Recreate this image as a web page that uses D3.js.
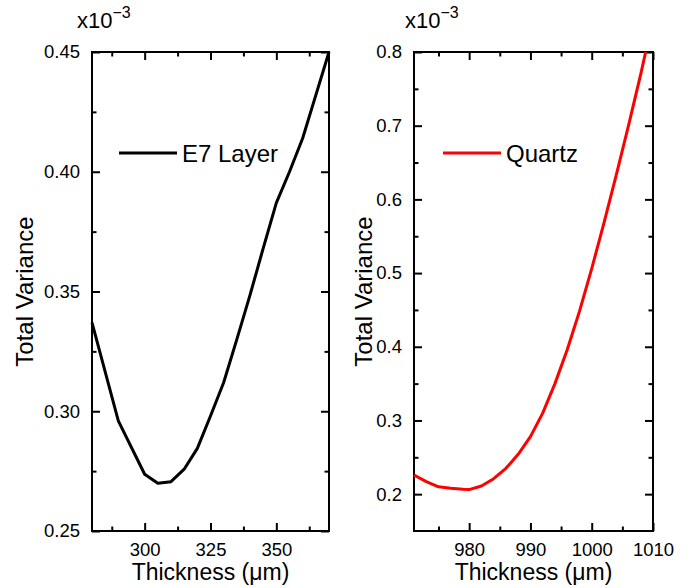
<!DOCTYPE html>
<html>
<head>
<meta charset="utf-8">
<script src="https://cdn.jsdelivr.net/npm/d3@7"></script>
<style>
  body { margin: 0; background: #fff; }
  svg { font-family: "Liberation Sans", Arial, sans-serif; }
</style>
</head>
<body>
<svg id="chart" width="694" height="588"></svg>
<script>
// E7 layer series (x in um, y in units of 1e-3)
var e7Thickness = [280, 290, 300, 305, 310, 315, 320, 325, 330, 335, 340, 345, 350, 355, 360, 365, 370];
var e7Variance  = [0.337, 0.296, 0.2737, 0.2699, 0.2706, 0.2758, 0.2845, 0.298, 0.312, 0.330, 0.3485, 0.368, 0.387, 0.400, 0.414, 0.432, 0.450];

// Quartz series
var quartzThickness = [971, 973, 975, 977, 979, 980, 982, 984, 986, 988, 990, 992, 994, 996, 998, 1000, 1002, 1004, 1006, 1008, 1008.8];
var quartzVariance  = [0.226, 0.217, 0.210, 0.208, 0.2065, 0.2062, 0.211, 0.221, 0.235, 0.254, 0.278, 0.310, 0.350, 0.396, 0.448, 0.506, 0.568, 0.633, 0.700, 0.770, 0.800];

// ticks
var e7XTicks = [300, 325, 350];
var e7XMinor = [287.5, 312.5, 337.5, 362.5];
var e7YTicks = [0.25, 0.30, 0.35, 0.40, 0.45];
var e7YMinor = [0.275, 0.325, 0.375, 0.425];

var qXTicks = [980, 990, 1000, 1010];
var qXMinor = [975, 985, 995, 1005];
var qYTicks = [0.2, 0.3, 0.4, 0.5, 0.6, 0.7, 0.8];
var qYMinor = [0.25, 0.35, 0.45, 0.55, 0.65, 0.75];

var svg = d3.select("#chart");

function drawPanel(p) {
  var x = d3.scaleLinear().domain(p.xDomain).range([p.left, p.right]);
  var y = d3.scaleLinear().domain(p.yDomain).range([p.bottom, p.top]);
  var g = svg.append("g");
  var h = p.bottom - p.top, w = p.right - p.left;

  // ticks, pointing inward on all four sides
  function ax(axis, tr, values, size, labels) {
    var a = g.append("g")
      .attr("transform", tr)
      .call(axis.tickValues(values).tickSize(size).tickPadding(10)
        .tickFormat(labels ? p[labels] : ""));
    a.select(".domain").remove();
    a.selectAll("line").attr("stroke", "#000").attr("stroke-width", 2);
    a.selectAll("text").attr("fill", "#000").style("font-size", "18.5px");
    return a;
  }
  var bx = ax(d3.axisBottom(x), "translate(0," + p.bottom + ")", p.xTicks, -8, "xFmt");
  bx.selectAll("text").attr("dy", "0").attr("y", 25);
  ax(d3.axisBottom(x), "translate(0," + p.bottom + ")", p.xMinor, -4.5, null);
  ax(d3.axisTop(x), "translate(0," + p.top + ")", p.xTicks, -8, null);
  ax(d3.axisTop(x), "translate(0," + p.top + ")", p.xMinor, -4.5, null);
  var ly = ax(d3.axisLeft(y), "translate(" + p.left + ",0)", p.yTicks, -8, "yFmt");
  ly.selectAll("text").attr("x", -12);
  ax(d3.axisLeft(y), "translate(" + p.left + ",0)", p.yMinor, -4.5, null);
  ax(d3.axisRight(y), "translate(" + p.right + ",0)", p.yTicks, -8, null);
  ax(d3.axisRight(y), "translate(" + p.right + ",0)", p.yMinor, -4.5, null);

  // frame
  g.append("rect")
    .attr("x", p.left).attr("y", p.top)
    .attr("width", w).attr("height", h)
    .attr("fill", "none").attr("stroke", "#000").attr("stroke-width", 2);

  // curve
  var pts = p.xs.map(function (d, i) { return [d, p.ys[i]]; });
  var line = d3.line().x(function (d) { return x(d[0]); }).y(function (d) { return y(d[1]); });
  g.append("path")
    .datum(pts)
    .attr("d", line)
    .attr("fill", "none")
    .attr("stroke", p.color)
    .attr("stroke-width", 3)
    .attr("stroke-linejoin", "round");

  // legend
  g.append("line")
    .attr("x1", p.legX).attr("x2", p.legX + 58)
    .attr("y1", 153).attr("y2", 153)
    .attr("stroke", p.color).attr("stroke-width", 3);
  g.append("text")
    .attr("x", p.legX + 63).attr("y", 162)
    .style("font-size", "24px")
    .text(p.name);

  // axis titles
  g.append("text")
    .attr("x", (p.left + p.right) / 2).attr("y", 580)
    .attr("text-anchor", "middle")
    .style("font-size", "23px")
    .text("Thickness (\u03bcm)");
  g.append("text")
    .attr("transform", "translate(" + p.yTitleX + "," + (p.top + p.bottom) / 2 + ") rotate(-90)")
    .attr("text-anchor", "middle")
    .style("font-size", "24px")
    .text("Total Variance");

  // multiplier
  var m = g.append("text")
    .attr("x", p.multX).attr("y", 28)
    .style("font-size", "22px");
  m.append("tspan").text("x10");
  m.append("tspan").attr("dy", -10).style("font-size", "16px").text("\u22123");
}

drawPanel({
  left: 92, right: 329, top: 52, bottom: 531,
  xDomain: [280, 370], yDomain: [0.25, 0.45],
  xTicks: e7XTicks, xMinor: e7XMinor, yTicks: e7YTicks, yMinor: e7YMinor,
  xFmt: d3.format("d"), yFmt: d3.format(".2f"),
  xs: e7Thickness, ys: e7Variance, color: "#000", name: "E7 Layer",
  legX: 119, yTitleX: 33, multX: 77
});

drawPanel({
  left: 414, right: 653, top: 52, bottom: 531,
  xDomain: [971, 1010], yDomain: [0.15, 0.8],
  xTicks: qXTicks, xMinor: qXMinor, yTicks: qYTicks, yMinor: qYMinor,
  xFmt: d3.format("d"), yFmt: d3.format(".1f"),
  xs: quartzThickness, ys: quartzVariance, color: "#ff0000", name: "Quartz",
  legX: 443, yTitleX: 372, multX: 405
});
</script>
</body>
</html>
